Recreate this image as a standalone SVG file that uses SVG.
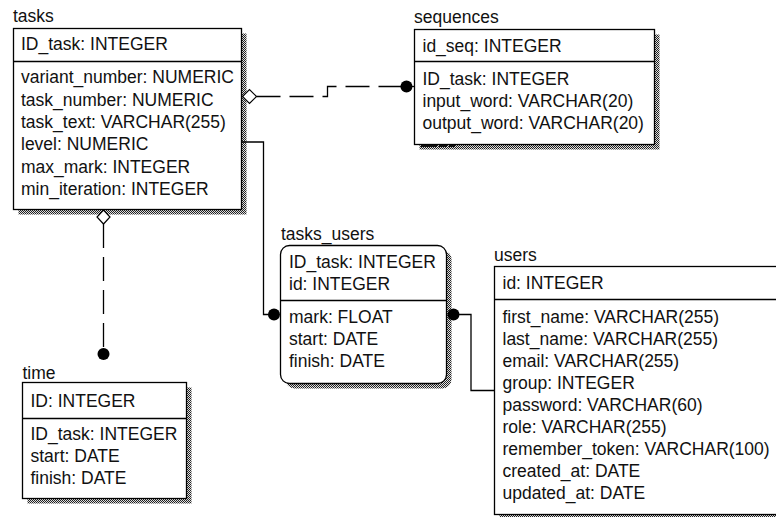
<svg xmlns="http://www.w3.org/2000/svg" width="776" height="517" viewBox="0 0 776 517">
<defs>
<pattern id="hatch" width="2" height="2" patternUnits="userSpaceOnUse">
<rect width="2" height="2" fill="#e0e0e0"/>
<rect width="1" height="1" fill="#222"/>
<rect x="1" y="1" width="1" height="1" fill="#222"/>
</pattern>
<style>
text{font-family:"Liberation Sans",Arial,sans-serif;font-size:17.5px;fill:#111}
.box{fill:#fff;stroke:#000;stroke-width:1.3}
.sh{fill:url(#hatch)}
.div{stroke:#000;stroke-width:1.3;fill:none}
.dash{stroke:#000;stroke-width:1.3;fill:none;stroke-dasharray:24 9}
.solid{stroke:#000;stroke-width:1.3;fill:none}
.dot{fill:#000}
.dia{fill:#fff;stroke:#000;stroke-width:1.2}
</style>
</defs>
<rect width="776" height="517" fill="#fff"/>

<g id="tasks">
<text x="13" y="22">tasks</text>
<rect class="sh" x="18.5" y="33.5" width="228" height="181"/>
<rect class="box" x="13.5" y="28.5" width="228" height="181"/>
<line class="div" x1="13.5" y1="61.5" x2="241.5" y2="61.5"/>
<text x="21" y="50">ID_task: INTEGER</text>
<text x="21" y="83">variant_number: NUMERIC</text>
<text x="21" y="105.5">task_number: NUMERIC</text>
<text x="21" y="128">task_text: VARCHAR(255)</text>
<text x="21" y="150">level: NUMERIC</text>
<text x="21" y="172.5">max_mark: INTEGER</text>
<text x="21" y="195">min_iteration: INTEGER</text>
</g>

<g id="sequences">
<text x="414" y="23">sequences</text>
<rect class="sh" x="419.5" y="34.5" width="240" height="115"/>
<rect x="421" y="144.5" width="16" height="2.5" fill="#111"/>
<rect x="439" y="144.5" width="8" height="2.5" fill="#111"/>
<rect x="449" y="144.5" width="6" height="2.5" fill="#111"/>
<rect class="box" x="414.5" y="29.5" width="240" height="115"/>
<line class="div" x1="414.5" y1="61.5" x2="654.5" y2="61.5"/>
<text x="422.5" y="51.5">id_seq: INTEGER</text>
<text x="422.5" y="85">ID_task: INTEGER</text>
<text x="422.5" y="107">input_word: VARCHAR(20)</text>
<text x="422.5" y="129">output_word: VARCHAR(20)</text>
</g>

<g id="tasks_users">
<text x="281" y="240">tasks_users</text>
<rect class="sh" x="285.5" y="250.5" width="166" height="138" rx="9"/>
<rect class="box" x="280.5" y="245.5" width="166" height="138" rx="9"/>
<line class="div" x1="280.5" y1="300.5" x2="446.5" y2="300.5"/>
<text x="289" y="268">ID_task: INTEGER</text>
<text x="289" y="290">id: INTEGER</text>
<text x="289" y="323">mark: FLOAT</text>
<text x="289" y="345">start: DATE</text>
<text x="289" y="367">finish: DATE</text>
</g>

<g id="users">
<text x="494" y="261">users</text>
<rect class="sh" x="499.5" y="271.5" width="300" height="248"/>
<rect class="box" x="494.5" y="266.5" width="300" height="248"/>
<line class="div" x1="494.5" y1="299.5" x2="794.5" y2="299.5"/>
<text x="502.5" y="289">id: INTEGER</text>
<text x="502.5" y="323">first_name: VARCHAR(255)</text>
<text x="502.5" y="345">last_name: VARCHAR(255)</text>
<text x="502.5" y="367">email: VARCHAR(255)</text>
<text x="502.5" y="389">group: INTEGER</text>
<text x="502.5" y="411">password: VARCHAR(60)</text>
<text x="502.5" y="433">role: VARCHAR(255)</text>
<text x="502.5" y="455">remember_token: VARCHAR(100)</text>
<text x="502.5" y="477">created_at: DATE</text>
<text x="502.5" y="499">updated_at: DATE</text>
</g>

<g id="time">
<text x="22.5" y="378.5">time</text>
<rect class="sh" x="27.5" y="387.5" width="164" height="116"/>
<rect class="box" x="22.5" y="382.5" width="164" height="116"/>
<line class="div" x1="22.5" y1="418.5" x2="186.5" y2="418.5"/>
<text x="30.5" y="407">ID: INTEGER</text>
<text x="30.5" y="440">ID_task: INTEGER</text>
<text x="30.5" y="462">start: DATE</text>
<text x="30.5" y="484">finish: DATE</text>
</g>

<g id="connectors">
<path class="dash" d="M256.5 96.5 H327.5 V86.5 H406.5"/>
<line class="solid" x1="400" y1="86.5" x2="414.5" y2="86.5"/>
<path class="dia" d="M242.5 96.5 L249.5 89.5 L256.5 96.5 L249.5 103.5 Z"/>
<circle class="dot" cx="406.5" cy="86.5" r="6"/>

<path class="dash" d="M103.5 224 V354"/>
<path class="dia" d="M103.5 210 L110 217 L103.5 224 L97 217 Z"/>
<circle class="dot" cx="103.5" cy="354" r="6"/>

<path class="solid" d="M241.5 142 H263.5 V314.5 H274"/>
<circle class="dot" cx="274" cy="314.5" r="6"/>

<path class="solid" d="M453.5 314.5 H471 V390.5 H494.5"/>
<circle class="dot" cx="453.5" cy="314.5" r="6"/>
</g>
</svg>
